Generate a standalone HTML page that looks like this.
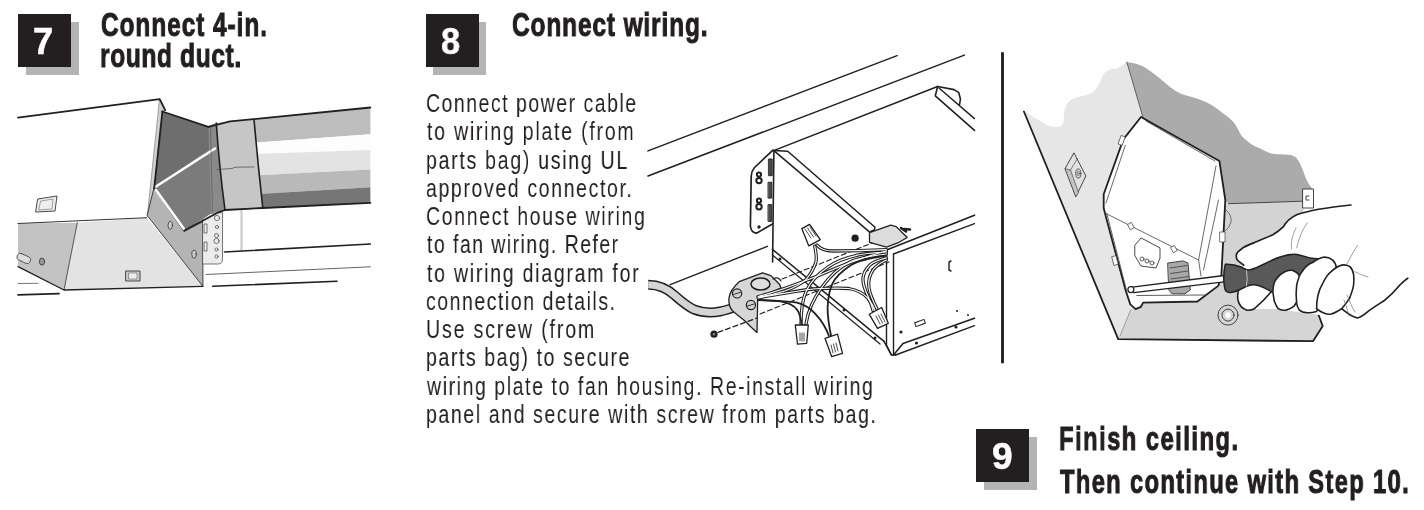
<!DOCTYPE html>
<html><head><meta charset="utf-8"><style>
html,body{margin:0;padding:0;background:#fff;}
body{width:1424px;height:510px;position:relative;overflow:hidden;font-family:"Liberation Sans",sans-serif;}
.t{position:absolute;white-space:pre;line-height:1;transform-origin:0 0;will-change:transform;}
.bx{position:absolute;width:53px;height:53px;background:#231f20;}
.sh{position:absolute;width:53px;height:53px;background:#b4b4b4;}
svg{position:absolute;left:0;top:0;}
</style></head><body>
<svg width="1424" height="510" viewBox="0 0 1424 510">
<g id="ill1" stroke-linejoin="round" stroke-linecap="round">
 <polygon points="159.7,99.1 165.2,110.1 162.4,111.5 154.2,188.3 147.4,215.8" fill="#d0d0d0" stroke="#666" stroke-width="0.6"/>
 <polyline points="18,117.6 159.7,99.1 165.2,110.1" fill="none" stroke="#231f20" stroke-width="1.8"/>
 <polygon points="18,223.5 77.3,222.7 64,290 18,266.7" fill="#c3c3c3"/>
 <polygon points="77.3,222.7 146.8,217.7 202.9,286.3 64,290" fill="#e3e3e3"/>
 <polyline points="18,223.5 146.8,217.7" fill="none" stroke="#333" stroke-width="1"/>
 <line x1="77.3" y1="222.7" x2="64" y2="290" stroke="#444" stroke-width="0.9"/>
 <polyline points="18,266.7 64,290 202.9,286.3" fill="none" stroke="#231f20" stroke-width="1.3"/>
 <rect x="17" y="255" width="14" height="7" rx="3" fill="#ddd" stroke="#444" stroke-width="0.8" transform="rotate(25 24 258)"/>
 <ellipse cx="42" cy="261.6" rx="2.6" ry="3.6" fill="#999" stroke="#333" stroke-width="0.8"/>
 <polygon points="38,199 57,196 55,211 36,212" fill="#eee" stroke="#333" stroke-width="0.9"/>
 <polygon points="41,201 53,199 52,209 39,210" fill="none" stroke="#666" stroke-width="0.6"/>
 <rect x="126" y="271" width="14" height="10" fill="#ccc" stroke="#333" stroke-width="0.9"/>
 <rect x="129" y="273" width="8" height="6" fill="#eee" stroke="#555" stroke-width="0.5"/>
 <line x1="18" y1="283.5" x2="38" y2="283.3" stroke="#555" stroke-width="0.8"/>
 <line x1="18" y1="294.8" x2="59" y2="293.6" stroke="#231f20" stroke-width="1.8"/>
 <!-- plate -->
 <polygon points="154.2,188.3 184,231.6 202.9,221.6 202.9,286.3 147.4,215.8" fill="#b4b4b4" stroke="#333" stroke-width="0.9"/>
 <ellipse cx="170.2" cy="225.3" rx="2.2" ry="4" fill="#ccc" stroke="#333" stroke-width="0.8"/>
 <ellipse cx="194" cy="254.2" rx="2.2" ry="4" fill="#ccc" stroke="#333" stroke-width="0.8"/>
 <!-- bracket -->
 <path d="M203,214 L222.5,212.5 L222.5,259 Q222.5,264 218,264 L203,264 Z" fill="#ececec" stroke="#555" stroke-width="0.8"/>
 <g fill="none" stroke="#444" stroke-width="0.7">
  <circle cx="217" cy="218" r="2.6"/><circle cx="217" cy="227" r="1.6"/><circle cx="216.5" cy="235.5" r="2"/><circle cx="216.5" cy="241" r="2.6"/><circle cx="216.5" cy="249.5" r="1.6"/><circle cx="216.5" cy="256.5" r="1.6"/>
  <rect x="204.5" y="224" width="2.5" height="9"/><rect x="204.5" y="242" width="2.5" height="9"/>
 </g>
 <!-- background lines -->
 <line x1="241.5" y1="211" x2="241.5" y2="250.5" stroke="#999" stroke-width="1.6"/>
 <line x1="241.5" y1="211" x2="241.5" y2="250.5" stroke="#fff" stroke-width="0.5"/>
 <line x1="224.5" y1="252" x2="370.4" y2="244" stroke="#231f20" stroke-width="1.6"/>
 <line x1="206" y1="274.5" x2="370.4" y2="266.8" stroke="#555" stroke-width="0.9"/>
 <line x1="212.7" y1="286.3" x2="337" y2="281.3" stroke="#231f20" stroke-width="1.6"/>
 <!-- duct bands -->
 <polygon points="240,120.4 370.4,107.5 370.4,134.2 240,143.8" fill="#bdbdbd"/>
 <polygon points="240,143.8 370.4,134.2 370.4,149.9 240,154.5" fill="#fdfdfd"/>
 <polygon points="240,154.5 370.4,149.9 370.4,169.5 240,176.2" fill="#e3e3e3"/>
 <polygon points="240,176.2 370.4,169.5 370.4,187.2 240,195.1" fill="#b9b9b9"/>
 <polygon points="240,195.1 370.4,187.2 370.4,202.8 240,209" fill="#767676"/>
 <!-- transition -->
 <polygon points="203,128 216.3,123 225,210 205,215" fill="#8a8a8a"/>
 <polygon points="162.4,111.5 208.4,126.9 209,150 205.3,152.5 154.2,188.3" fill="#6e6e6e"/>
 <polygon points="154.2,188.3 205.3,152.5 209,152 211,213.5 184,231.6" fill="#7b7b7b"/>
 <line x1="156" y1="186.5" x2="215" y2="148.5" stroke="#fff" stroke-width="2.6"/>
 <line x1="156" y1="190" x2="184" y2="229" stroke="#fff" stroke-width="2.6"/>
 <polyline points="162.4,111.5 154.2,188.3" fill="none" stroke="#231f20" stroke-width="1.8"/>
 <polyline points="162.4,111.5 208.4,126.9" fill="none" stroke="#231f20" stroke-width="1.8"/>
 <polyline points="184.3,230.5 217.6,212.7 225,210" fill="none" stroke="#231f20" stroke-width="1.8"/>
 <!-- collar -->
 <path d="M216.3,123 L254,119.5 Q258,165 262.8,208 L225,210 Q219,165 216.3,123 Z" fill="#c6c6c6"/>
 <path d="M216.3,123 Q219,165 225,210" fill="none" stroke="#231f20" stroke-width="1.6"/>
 <path d="M254,119.5 Q258,165 262.8,208" fill="none" stroke="#231f20" stroke-width="1.6"/>
 <path d="M217,169.5 L232,168.5 L235,167.2 L254,167" fill="none" stroke="#444" stroke-width="0.7"/>
 <line x1="210.5" y1="127" x2="212.5" y2="212" stroke="#555" stroke-width="0.6"/>
 <!-- duct outline -->
 <polyline points="208.4,126.9 230.1,121.4 370.4,107.5" fill="none" stroke="#231f20" stroke-width="1.8"/>
 <polyline points="225,210 262.8,208 370.4,202.8" fill="none" stroke="#231f20" stroke-width="1.8"/>
</g>
<g id="ill2" stroke-linejoin="round" stroke-linecap="round" fill="none" stroke="#231f20">
 <line x1="648" y1="150.9" x2="897.1" y2="55.6" stroke-width="1.5"/>
 <line x1="648" y1="176" x2="964.4" y2="55.1" stroke-width="1.5"/>
 <line x1="774.3" y1="150.4" x2="937.6" y2="86.5" stroke-width="1.5"/>
 <!-- right top strip and tab -->
 <polyline points="937.6,86.5 954.1,89.6 958.8,92.7 960.4,99 959.6,104.5" stroke-width="1.6"/>
 <polyline points="937.6,86.5 935.3,95.9 974.5,130.4" stroke-width="1.6"/>
 <line x1="939" y1="88" x2="974.5" y2="118.6" stroke-width="1.4"/>
 <!-- box left flange -->
 <path d="M772.9,150.2 L754.5,167.5 Q751.5,171 751.2,176 L750.4,226 Q751,232.5 756.5,233.2 L772.5,224" stroke-width="1.7"/>
 <g stroke-width="2"><circle cx="759" cy="174.6" r="2.1"/><circle cx="759" cy="180.6" r="2.7"/><circle cx="759" cy="200.7" r="2.1"/><circle cx="759" cy="206.7" r="2.7"/></g>
 <circle cx="759" cy="227" r="1.7" fill="#231f20" stroke="none"/>
 <g fill="#4a4a4a" stroke="#231f20" stroke-width="0.9"><rect x="768.8" y="159" width="3.4" height="16.7"/><rect x="768.4" y="182.3" width="3.4" height="15.8"/><rect x="768.4" y="204.6" width="3.4" height="16.8"/></g>
 <line x1="773.9" y1="150.6" x2="772.6" y2="262" stroke-width="1.6"/>
 <!-- box top strip -->
 <line x1="773.9" y1="150.6" x2="868.8" y2="231.4" stroke-width="1.5"/>
 <polyline points="773.9,150.6 787.7,151.3 875,227.2 874.3,230 869.5,232" stroke-width="1.5"/>
 <!-- box bottom side edge -->
 <line x1="772.4" y1="249.3" x2="884" y2="341.3" stroke-width="1.5"/>
 <line x1="772.4" y1="255" x2="880" y2="344" stroke-width="1.2"/>
 <polyline points="884,341.3 891.4,355 895.6,355" stroke-width="1.5"/>
 <g fill="#231f20" stroke="none"><circle cx="780" cy="259" r="1.5"/><circle cx="844" cy="310" r="1.5"/><circle cx="875" cy="338" r="1.5"/></g>
 <!-- terminal block -->
 <polygon points="869.5,232.7 890.8,225.2 896.2,226.6 907.2,237.5 899,242.3 886.6,247.1 869.5,242.3" fill="#dcdcdc" stroke-width="1.3"/>
 <path d="M901,228 L906,231.5 M904,229 L910,229.5" stroke-width="2.6"/>
 <circle cx="855.1" cy="238.2" r="3.6" fill="#231f20" stroke="none"/>
 <!-- front panel -->
 <polyline points="887.2,249.8 974.5,215.2" stroke-width="1.6"/>
 <polyline points="893.5,254 974.5,223.6" stroke-width="1.4"/>
 <polyline points="886.5,249 886.5,345 891.4,355" stroke-width="1.4"/>
 <line x1="893.5" y1="254" x2="893.5" y2="354" stroke-width="1.4"/>
 <polyline points="893.5,355 903,343.4 974.5,318.2" stroke-width="1.6"/>
 <line x1="895.6" y1="355" x2="974.5" y2="325.6" stroke-width="1.4"/>
 <rect x="915" y="321" width="10" height="4" transform="rotate(-20 920 323)" stroke-width="1"/>
 <path d="M951,261 L949,262 L949,270 L951,271" stroke-width="1.4"/>
 <g fill="#231f20" stroke="none"><circle cx="901" cy="332" r="1.6"/><circle cx="916.5" cy="343" r="1.6"/><circle cx="956" cy="327" r="1.6"/><circle cx="957" cy="311" r="1"/><circle cx="968" cy="315" r="1"/></g>
 <!-- floor line -->
 <line x1="670.2" y1="284.7" x2="767.4" y2="246.3" stroke-width="1.4"/>
 <!-- cable -->
 <path d="M648.2,284.7 C660,284.7 668,289 675.3,295.9 C681,301 687,306 694,309.5 C703,313 712,313 720,311.5 C728,310 733,308 739,305.5" stroke-width="10" stroke-linecap="butt"/>
 <path d="M648.2,284.7 C660,284.7 668,289 675.3,295.9 C681,301 687,306 694,309.5 C703,313 712,313 720,311.5 C728,310 733,308 739,305.5" stroke="#d4d4d4" stroke-width="7" stroke-linecap="butt"/>
 <!-- plate -->
 <path d="M739.2,281.7 L762.5,272.8 L770.8,275.6 L779.7,284.5 L781,287.9 L757.7,298.9 L757,332.4 L751,327 L745,321 L735,313 Q728,308 729,298 Q730,290 739.2,281.7 Z" fill="#d6d6d6" stroke-width="1.3"/>
 <ellipse cx="760.5" cy="284" rx="9.5" ry="6" stroke-width="1.5" fill="#dedede"/>
 <path d="M773,279 Q778,276 781,281" stroke-width="1.2"/>
 <circle cx="737.1" cy="293.4" r="4.6" fill="#d0d0d0" stroke-width="1.2"/><line x1="733.5" y1="294.5" x2="740.5" y2="292.3" stroke-width="0.9"/>
 <circle cx="750.9" cy="305" r="4.6" fill="#d0d0d0" stroke-width="1.2"/><line x1="747.3" y1="306.1" x2="754.3" y2="303.9" stroke-width="0.9"/>
 <!-- screw + dashed -->
 <circle cx="714" cy="334.2" r="3.6" fill="#231f20" stroke="none"/><circle cx="714" cy="334.2" r="1.2" fill="#888" stroke="none"/>
 <line x1="718" y1="332.4" x2="757" y2="318" stroke-width="1.2" stroke-dasharray="5,3"/>
 <line x1="760" y1="314" x2="889" y2="262" stroke-width="1.1" stroke-dasharray="5,3"/>
 <line x1="782" y1="279" x2="872" y2="243" stroke-width="1.1" stroke-dasharray="5,3"/>
 <!-- wires -->
 <g fill="none">
  <g stroke="#231f20" stroke-width="3.3">
   <path d="M817,245 C821,250 826,251 833,251 C845,251 860,251 886.4,249.7"/>
   <path d="M814.7,246.2 C816,252 817,258 815.8,262.6 C813,270 810,275 806.4,279.1 C800,285 793,288 785.3,290.8 C777,293.5 770,295.5 758.2,297"/>
   <path d="M886.4,252 C870,253 860,254 855.8,255.6 C845,258 835,262 827.6,267.3 C818,274 811,281 806.4,290.8 C802,300 801,312 801,324"/>
   <path d="M886.4,254 C870,256 858,258 850,262 C838,268 830,276 822,287 C814,298 808,310 806,324"/>
   <path d="M758.2,297.9 C768,296 776,294.5 785.3,293.2 C797,291 810,289 820.5,288.5 C833,288 842,288 848.8,288.5 C857,290 863,293 867.6,297.9 C871,302 874,307 875.5,312"/>
   <path d="M758.2,296.5 C780,291 800,283 820,275 C840,266 860,258 886.4,251"/>
   <path d="M886.4,257.9 C878,260 873,262 869.9,265 C865,270 863,274 862.9,279.1 C863,285 865,290 867.6,295.5 C870,301 872,306 873,310.5"/>
   <path d="M886.4,260 C880,263 876,266 873,270 C869,276 868,282 869,288 C870,295 873,301 877,309"/>
  </g>
  <g stroke="#fff" stroke-width="1.2">
   <path d="M817,245 C821,250 826,251 833,251 C845,251 860,251 886.4,249.7"/>
   <path d="M814.7,246.2 C816,252 817,258 815.8,262.6 C813,270 810,275 806.4,279.1 C800,285 793,288 785.3,290.8 C777,293.5 770,295.5 758.2,297"/>
   <path d="M886.4,252 C870,253 860,254 855.8,255.6 C845,258 835,262 827.6,267.3 C818,274 811,281 806.4,290.8 C802,300 801,312 801,324"/>
   <path d="M886.4,254 C870,256 858,258 850,262 C838,268 830,276 822,287 C814,298 808,310 806,324"/>
   <path d="M758.2,297.9 C768,296 776,294.5 785.3,293.2 C797,291 810,289 820.5,288.5 C833,288 842,288 848.8,288.5 C857,290 863,293 867.6,297.9 C871,302 874,307 875.5,312"/>
   <path d="M758.2,296.5 C780,291 800,283 820,275 C840,266 860,258 886.4,251"/>
   <path d="M886.4,257.9 C878,260 873,262 869.9,265 C865,270 863,274 862.9,279.1 C863,285 865,290 867.6,295.5 C870,301 872,306 873,310.5"/>
   <path d="M886.4,260 C880,263 876,266 873,270 C869,276 868,282 869,288 C870,295 873,301 877,309"/>
  </g>
  <g stroke="#231f20" stroke-width="1.8">
   <path d="M886.4,255.6 C870,258 858,261 851.1,265 C842,271 836,276 832.3,283.8 C829,291 828,299 827.6,307.3 C827.5,316 829,326 831.1,336"/>
   <path d="M758.2,300.2 C766,300.5 774,300.8 780.6,301.4 C789,303 794,305.5 797,309.6 C800,314 801,319 801.7,325"/>
   <path d="M758.2,299.8 C772,300.5 786,301 797,302.6 C805,304.5 811,309 815.8,314.4 C821,320 826,328 829,336"/>
  </g>
 </g>
 <!-- wire nuts -->
 <g fill="#fff" stroke="#231f20" stroke-width="1.3">
  <polygon points="801.8,228.6 809.6,224.4 820.3,239.6 808.8,245.9"/>
  <polygon points="795.3,325 808.3,325 806.7,343.3 797.5,344.2"/>
  <polygon points="825,338.3 837.5,334.2 842.5,353.3 831.7,356.7"/>
  <polygon points="869.2,314.2 881.7,307.5 888.3,323.3 877.5,328.3"/>
 </g>
 <g stroke="#231f20" stroke-width="0.8" fill="none">
  <line x1="805" y1="229" x2="811" y2="238"/><line x1="807.5" y1="228" x2="813.5" y2="237"/><line x1="810" y1="227" x2="816" y2="236"/>
  <line x1="800" y1="333" x2="800" y2="341"/><line x1="802" y1="333" x2="802" y2="341"/><line x1="804" y1="333" x2="804" y2="341"/>
  <line x1="831" y1="345" x2="833" y2="353"/><line x1="833.5" y1="344" x2="835.5" y2="352"/><line x1="836" y1="343" x2="838" y2="351"/>
  <line x1="876" y1="316" x2="880" y2="324"/><line x1="878.5" y1="315" x2="882.5" y2="323"/><line x1="881" y1="314" x2="885" y2="322"/>
 </g>
</g>
</g>
<g id="ill3" stroke-linejoin="round" stroke-linecap="round">
 <line x1="1002.5" y1="52.3" x2="1002.5" y2="363.3" stroke="#1a1a1a" stroke-width="2.8" stroke-linecap="butt"/>
 <!-- ceiling light gray -->
 <path d="M1023.9,111.5 C1030,114 1034,118 1039,120.3 C1045,124 1049,127 1055,127 C1060,127 1063,126 1063.5,122 C1064,115 1064,110 1066,106 C1068,101 1072,98 1080,96.5 C1088,95 1093,93 1096,89 C1099,85 1101,80 1103,75 C1106,70 1110,69 1115.5,68.9 C1120,68 1124,64 1126.8,62 L1143,118 L1230,204 L1303,202 L1318.6,315 L1322.7,326 L1313,341.2 L1118.2,339.1 Z" fill="#e6e6e6"/>
 <!-- dark gray joist band -->
 <path d="M1126.8,62 C1133,63 1138,64 1142.3,65.9 C1148,69 1152,72 1156.2,75.6 C1163,81 1169,87 1175.7,91 C1182,95 1189,96 1195.2,97.9 C1203,100 1211,104 1217.5,109.1 C1225,115 1230,118 1234.2,123 C1238,128 1239,133 1242.6,136.9 C1248,142 1253,146 1259.3,148.1 C1265,151 1268,153 1272.5,153.7 C1278,154.5 1283,154 1288.2,154.7 C1292,155 1294,156 1296,157.6 C1300,162 1302,168 1304,173.3 C1306,179 1308,184 1312.7,189 L1303,189 L1303,201.2 L1228.4,203.7 L1143.1,117.8 Z" fill="#ababab"/>
 <line x1="1126.8" y1="62" x2="1143.1" y2="117.8" stroke="#444" stroke-width="0.8"/>
 <!-- lower right wall region -->
 <path d="M1222,204 L1303,201.2 L1303,212 L1318.6,315 L1322.7,326 L1313,341.2 L1200,341 L1200,290 Z" fill="#d3d3d3"/>
 <line x1="1228.4" y1="203.7" x2="1303" y2="201.2" stroke="#444" stroke-width="1"/>
 <rect x="1303" y="189" width="10.5" height="19" fill="#fff" stroke="#333" stroke-width="0.9"/>
 <path d="M1309,196 L1306,196 L1306,200 L1309,200" fill="none" stroke="#333" stroke-width="0.9"/>
 <path d="M1226,210 Q1232,215 1231,222 Q1230,228 1224,232" fill="none" stroke="#444" stroke-width="0.7"/>
 <!-- lower ceiling face -->
 <path d="M1130.6,310 L1148,303 L1202.4,298.6 L1221.3,283.3 L1240,290 L1318.6,315 L1322.7,326 L1313,341.2 L1118.2,339.1 Z" fill="#d5d5d5"/>
 <line x1="1130.6" y1="310" x2="1120" y2="336" stroke="#777" stroke-width="0.6"/>
 <!-- outline ceiling -->
 <polyline points="1023.9,111.5 1118.2,339.1 1313,341.2 1322.7,326 1318.6,315" fill="none" stroke="#231f20" stroke-width="1.8"/>
 <!-- square on ceiling -->
 <polygon points="1074.1,153.2 1085.9,175.9 1075.9,196.5 1065.3,168.8" fill="#e2e2e2" stroke="#333" stroke-width="0.9"/>
 <polygon points="1065.3,168.8 1070.5,170 1078.5,192.5 1075.9,196.5" fill="#c4c4c4" stroke="#333" stroke-width="0.6"/>
 <line x1="1070.5" y1="170" x2="1077.5" y2="158.5" stroke="#333" stroke-width="0.6"/>
 <ellipse cx="1078.3" cy="173.5" rx="2.6" ry="4.6" fill="none" stroke="#333" stroke-width="0.8"/>
 <ellipse cx="1078.3" cy="173.5" rx="1" ry="2.6" fill="none" stroke="#333" stroke-width="0.6"/>
 <!-- housing -->
 <path d="M1141,117 L1219.4,161 L1225.3,200 L1221.4,274.7 L1218.5,285.6 L1197.4,301.5 L1143.2,302.6 L1140.9,306.8 L1135.6,309.1 L1130.3,304.4 L1125.6,290.3 L1105.7,215.9 L1103.7,208 L1103.7,194.3 L1123.3,139.4 Z" fill="#fff" stroke="#231f20" stroke-width="1.8"/>
 <line x1="1146" y1="121" x2="1215" y2="161" stroke="#444" stroke-width="0.8"/>
 <line x1="1125.3" y1="145.3" x2="1106" y2="203" stroke="#444" stroke-width="0.8"/>
 <line x1="1216" y1="166" x2="1198.6" y2="260" stroke="#444" stroke-width="0.8"/>
 <line x1="1218.5" y1="200" x2="1203.5" y2="270" stroke="#444" stroke-width="0.8"/>
 <polyline points="1105,213 1198.6,260 1201,276" fill="none" stroke="#444" stroke-width="0.8"/>
 <line x1="1106.8" y1="213.5" x2="1127" y2="292" stroke="#444" stroke-width="0.8"/>
 <rect x="1120" y="136" width="4" height="9" fill="#fff" stroke="#444" stroke-width="0.7" transform="rotate(20 1122 140)"/>
 <rect x="1129" y="223" width="4" height="6" fill="#fff" stroke="#444" stroke-width="0.7" transform="rotate(-30 1131 226)"/>
 <rect x="1172" y="246" width="4" height="6" fill="#fff" stroke="#444" stroke-width="0.7" transform="rotate(-30 1174 249)"/>
 <rect x="1220" y="232" width="5" height="10" fill="#fff" stroke="#444" stroke-width="0.7"/>
 <rect x="1113" y="256" width="4" height="9" fill="#fff" stroke="#444" stroke-width="0.7" transform="rotate(-15 1115 260)"/>
 <!-- small connector -->
 <path d="M1135,245 L1141,238 L1147,241 L1160,248 L1160,258 L1156,268 L1141,266 L1135,256 Z" fill="#fff" stroke="#333" stroke-width="0.9"/>
 <g fill="none" stroke="#333" stroke-width="0.8"><circle cx="1142" cy="259" r="2"/><circle cx="1147" cy="261" r="2"/><circle cx="1152" cy="263" r="2"/></g>
 <path d="M1168,263 L1183,260.9 L1188,263 L1190.3,290 L1185,293.8 L1172,293.8 L1169,290 Z" fill="#a8a8a8" stroke="#333" stroke-width="0.9"/>
 <g stroke="#555" stroke-width="1.1"><line x1="1170" y1="268" x2="1187" y2="265.5"/><line x1="1170.5" y1="273.5" x2="1188" y2="271"/><line x1="1171" y1="279" x2="1188.5" y2="276.5"/></g>
 <line x1="1136.8" y1="295.5" x2="1204.4" y2="295" stroke="#333" stroke-width="0.8"/>
 <!-- screwdriver shaft -->
 <polygon points="1130.3,287.4 1226,275.2 1226,281.6 1133.8,292.6" fill="#fff" stroke="#231f20" stroke-width="1.4"/>
 <circle cx="1130.9" cy="289.6" r="3" fill="#fff" stroke="#231f20" stroke-width="1.2"/>
 <!-- hand back -->
 <path d="M1351,205 C1331,207 1310,210 1296.7,214.8 C1290,218 1286,222 1283.5,226.7 C1279,231 1276,233 1272.9,234.7 C1266,238 1260,240 1254.4,242.6 C1248,245 1243,247 1241.2,249.2 C1237,252 1236,254 1236.4,255.8 C1236,258 1237,260 1238.5,261.1 L1243.8,265.1 L1237.2,290.2 C1238,298 1239,303 1241.2,306.1 C1243,309 1245,310 1246.5,310.1 C1250,310 1252,309.5 1254.4,308.7 L1278,309 L1294,311.4 L1312.6,314 L1331.1,316.7 L1357.6,318 C1362,317 1365,314 1368.1,311.4 C1374,307 1379,304 1384,300.8 C1390,296 1395,291 1399.9,285 C1403,282 1405,280 1407.8,278.3 L1424,270 L1424,195 Z" fill="#fff"/>
 <path d="M1351,205 C1331,207 1310,210 1296.7,214.8 C1290,218 1286,222 1283.5,226.7 C1279,231 1276,233 1272.9,234.7 C1266,238 1260,240 1254.4,242.6 C1248,245 1243,247 1241.2,249.2 C1237,252 1236,254 1236.4,255.8 C1236,258 1237,260 1238.5,261.1 L1243.8,265.1" fill="none" stroke="#231f20" stroke-width="1.7"/>
 <!-- finger 1 -->
 <path d="M1243,284 C1238,288 1237,294 1238,300 C1239,305 1241,308 1246.5,310.1 C1250,310.5 1252,310 1254.4,308.7 C1260,304 1266,298 1271,292" fill="#fff" stroke="#231f20" stroke-width="1.6"/>
 <!-- handle -->
 <path d="M1225.3,264.3 C1230,264 1236,265 1241,267 C1244,268.5 1246,270 1248,270 C1252,270 1256,268 1261,265.5 C1268,262 1274,259 1280,257 C1286,255 1292,254 1297,254.5 C1303,255.5 1308,258 1314,258.5 L1322,259 L1318,292 L1272,292 C1266,289 1262,286 1256,285 C1252,284.5 1249,285 1246,286.5 C1241,289 1236,292 1231,292.5 C1227,293 1225,291 1224.5,287 C1223.5,281 1223.5,272 1225.3,264.3 Z" fill="#595959" stroke="#231f20" stroke-width="1.5"/>
 <path d="M1246.5,270.4 Q1248,278 1246.5,286" fill="none" stroke="#ddd" stroke-width="0.8"/>
 <!-- finger 2 -->
 <path d="M1272.9,292 C1273,286 1274,281 1276.9,278.3 C1279,275 1282,273 1284.8,271.7 C1288,270.5 1290,270 1292.8,270.4 C1296,271.5 1298,273 1299.4,275.7 C1301,279 1301,282 1300.7,285 C1300,290 1299,294 1298,298.2 C1297,302 1296,304 1294.1,306.1 C1291,308.5 1289,309.5 1286.1,310.1 C1283,310.5 1280,310 1278.2,308.7 C1276,306 1275,303 1274.2,300.8 Z" fill="#fff" stroke="#231f20" stroke-width="1.6"/>
 <!-- finger 3 -->
 <path d="M1296.7,303.5 C1296,297 1296,290 1296.7,285 C1298,279 1299,275 1302,271.7 C1305,267 1308,264 1312.6,262.5 C1316,260 1319,258 1323.2,257.2 C1327,257 1330,258 1332.4,259.8 C1335,262 1336,265 1336.4,267.7 C1337,272 1336,276 1335.1,279.7 C1333,285 1331,289 1328.5,292.9 C1326,297 1323,300 1320.5,303.5 C1319,306 1318,309 1316.6,311.4 C1313,312.5 1310,313 1307.3,312.7 C1304,312.5 1301,311.5 1299.4,310.1 C1298,308 1297,306 1296.7,303.5 Z" fill="#fff" stroke="#231f20" stroke-width="1.6"/>
 <!-- finger 4 -->
 <path d="M1316.6,308.7 C1316.5,304 1317,300 1317.9,295.5 C1319,290 1321,286 1323.2,282.3 C1326,277 1328,274 1331.1,271.7 C1335,268 1338,266 1341.7,265.1 C1345,264.5 1347,265 1349.6,266.4 C1352,268.5 1353,271 1353.6,274.4 C1354,278 1354,281 1353.6,285 C1353,290 1351,294 1349.6,298.2 C1347,302 1345,305 1341.7,308.7 C1338,311 1335,313 1331.1,314 C1328,314.5 1325,314 1323.2,312.7 C1320,311.5 1318,310 1316.6,308.7 Z" fill="#fff" stroke="#231f20" stroke-width="1.6"/>
 <!-- bottom contour -->
 <path d="M1341.7,308.7 C1346,312 1350,316 1357.6,318 C1362,317 1365,314 1368.1,311.4 C1374,307 1379,304 1384,300.8 C1390,296 1395,291 1399.9,285 C1403,282 1405,280 1407.8,278.3" fill="none" stroke="#231f20" stroke-width="1.7"/>
 <g fill="none" stroke="#777" stroke-width="0.7">
  <path d="M1307.3,222.8 C1302,230 1299,238 1296.7,247.9"/>
  <path d="M1296,228 C1292,236 1291,242 1291.5,249"/>
  <path d="M1357.6,245.3 C1353,252 1350,258 1347,263.8"/>
  <path d="M1355,271.7 C1360,274 1364,276 1368,277"/>
  <path d="M1347,295 C1350,302 1352,308 1355,312"/>
  <path d="M1344,300 C1346,305 1348,312 1349,316"/>
 </g>
 <!-- ring -->
 <circle cx="1228" cy="315.1" r="10" fill="none" stroke="#333" stroke-width="0.9"/>
 <circle cx="1228" cy="315.1" r="6" fill="none" stroke="#333" stroke-width="0.9"/>
 <circle cx="1228" cy="315.1" r="2.8" fill="#fff" stroke="none"/>
</g>
</svg>

<div class="sh" style="left:25.8px;top:21.9px"></div><div class="bx" style="left:18px;top:14.3px"></div>
<div class="sh" style="left:433.3px;top:21.799999999999997px"></div><div class="bx" style="left:425.5px;top:14.2px"></div>
<div class="sh" style="left:984.0px;top:436.5px"></div><div class="bx" style="left:976.2px;top:428.9px"></div>

<div class="t" style="left:426.25px;top:90.0px;font-size:26px;font-weight:400;color:#231f20;letter-spacing:2.022px;transform:scaleX(0.7484)">Connect power cable</div>
<div class="t" style="left:427.0px;top:118.26px;font-size:26px;font-weight:400;color:#231f20;letter-spacing:2.33px;transform:scaleX(0.7516)">to wiring plate (from</div>
<div class="t" style="left:425.5px;top:146.52px;font-size:26px;font-weight:400;color:#231f20;letter-spacing:2.289px;transform:scaleX(0.7506)">parts bag) using UL</div>
<div class="t" style="left:426.25px;top:174.78px;font-size:26px;font-weight:400;color:#231f20;letter-spacing:2.193px;transform:scaleX(0.7485)">approved connector.</div>
<div class="t" style="left:426.25px;top:203.04px;font-size:26px;font-weight:400;color:#231f20;letter-spacing:2.228px;transform:scaleX(0.7483)">Connect house wiring</div>
<div class="t" style="left:427.0px;top:231.3px;font-size:26px;font-weight:400;color:#231f20;letter-spacing:1.937px;transform:scaleX(0.7494)">to fan wiring. Refer</div>
<div class="t" style="left:427.0px;top:259.56px;font-size:26px;font-weight:400;color:#231f20;letter-spacing:2.343px;transform:scaleX(0.7496)">to wiring diagram for</div>
<div class="t" style="left:426.25px;top:287.82px;font-size:26px;font-weight:400;color:#231f20;letter-spacing:2.044px;transform:scaleX(0.7494)">connection details.</div>
<div class="t" style="left:425.5px;top:316.08px;font-size:26px;font-weight:400;color:#231f20;letter-spacing:2.467px;transform:scaleX(0.7518)">Use screw (from</div>
<div class="t" style="left:425.5px;top:344.34px;font-size:26px;font-weight:400;color:#231f20;letter-spacing:2.105px;transform:scaleX(0.75)">parts bag) to secure</div>
<div class="t" style="left:427.0px;top:372.6px;font-size:26px;font-weight:400;color:#231f20;letter-spacing:2.104px;transform:scaleX(0.7496)">wiring plate to fan housing. Re-install wiring</div>
<div class="t" style="left:425.5px;top:400.86px;font-size:26px;font-weight:400;color:#231f20;letter-spacing:2.14px;transform:scaleX(0.7498)">panel and secure with screw from parts bag.</div>
<div class="t" style="left:100.77px;top:8.2px;font-size:33.5px;font-weight:700;color:#231f20;letter-spacing:1.339px;-webkit-text-stroke:1.0px #231f20;transform:scaleX(0.727)">Connect 4-in.</div>
<div class="t" style="left:100.44px;top:39.2px;font-size:33.5px;font-weight:700;color:#231f20;letter-spacing:0.859px;-webkit-text-stroke:1.0px #231f20;transform:scaleX(0.7323)">round duct.</div>
<div class="t" style="left:512.37px;top:8.4px;font-size:33.5px;font-weight:700;color:#231f20;letter-spacing:1.167px;-webkit-text-stroke:1.0px #231f20;transform:scaleX(0.7309)">Connect wiring.</div>
<div class="t" style="left:1059.14px;top:423.4px;font-size:32.5px;font-weight:700;color:#231f20;letter-spacing:2.056px;-webkit-text-stroke:1.0px #231f20;transform:scaleX(0.7293)">Finish ceiling.</div>
<div class="t" style="left:1059.7px;top:466.3px;font-size:32.5px;font-weight:700;color:#231f20;letter-spacing:1.863px;-webkit-text-stroke:1.0px #231f20;transform:scaleX(0.7291)">Then continue with Step 10.</div>
<div class="t" style="left:32.79px;top:24.2px;font-size:36px;font-weight:700;color:#fff;letter-spacing:0px;-webkit-text-stroke:0.5px #fff;transform:scaleX(1.0111)">7</div>
<div class="t" style="left:441.06px;top:23.9px;font-size:36.5px;font-weight:700;color:#fff;letter-spacing:0px;-webkit-text-stroke:0.5px #fff;transform:scaleX(0.9368)">8</div>
<div class="t" style="left:991.58px;top:438.6px;font-size:36.5px;font-weight:700;color:#fff;letter-spacing:0px;-webkit-text-stroke:0.5px #fff;transform:scaleX(1.0167)">9</div>
</body></html>
